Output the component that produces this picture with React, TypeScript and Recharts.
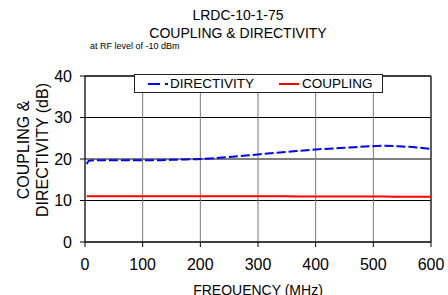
import {
  LineChart,
  Line,
  XAxis,
  YAxis,
  CartesianGrid,
  Legend,
  Label,
  ReferenceLine,
} from "recharts";

const frequencies = [3, 7, 25, 50, 75, 100, 125, 150, 175, 200, 250, 300, 350, 400, 450, 500, 520, 550, 575, 600];
const directivity = [18.8, 19.6, 19.7, 19.7, 19.7, 19.7, 19.7, 19.8, 19.9, 20.0, 20.5, 21.1, 21.7, 22.3, 22.7, 23.1, 23.2, 23.0, 22.8, 22.4];
const coupling = [11.0, 11.0, 11.0, 11.0, 11.0, 11.0, 11.0, 11.0, 11.0, 11.0, 11.0, 11.0, 11.0, 10.95, 10.95, 10.95, 10.95, 10.9, 10.9, 10.9];
const xTicks = [0, 100, 200, 300, 400, 500, 600];
const yTicks = [0, 10, 20, 30, 40];

const data = frequencies.map((f, i) => ({
  freq: f,
  directivity: directivity[i],
  coupling: coupling[i],
}));

const FONT = "Arial, 'Liberation Sans', Helvetica, sans-serif";

function ChartLegend() {
  return (
    <div
      style={{
        position: "relative",
        width: 249,
        height: 19,
        border: "1px solid #222",
        background: "#fff",
        fontFamily: FONT,
        fontSize: 13.5,
        color: "#000",
        boxSizing: "border-box",
      }}
    >
      <svg width={20} height={4} style={{ position: "absolute", left: 13, top: 7 }}>
        <line x1={0} y1={2} x2={20} y2={2} stroke="#0000FF" strokeWidth={2} strokeDasharray="12 5" />
      </svg>
      <span style={{ position: "absolute", left: 35, top: 1, lineHeight: "16px" }}>DIRECTIVITY</span>
      <svg width={20} height={4} style={{ position: "absolute", left: 144, top: 7 }}>
        <line x1={0} y1={2} x2={20} y2={2} stroke="#FF0000" strokeWidth={2} />
      </svg>
      <span style={{ position: "absolute", left: 167, top: 1, lineHeight: "16px" }}>COUPLING</span>
    </div>
  );
}

export default function App() {
  return (
    <div style={{ position: "absolute", left: 0, top: 0, width: 448, height: 295, background: "#fff", overflow: "hidden" }}>
      <div style={{ position: "absolute", left: 0, width: 476, top: 6, textAlign: "center", fontFamily: FONT, fontSize: 14, lineHeight: "18px" }}>
        LRDC-10-1-75
        <br />
        COUPLING &amp; DIRECTIVITY
      </div>
      <div style={{ position: "absolute", left: 90, top: 41, fontFamily: FONT, fontSize: 9 }}>at RF level of -10 dBm</div>
      <LineChart
        width={448}
        height={295}
        data={data}
        margin={{ top: 57, right: 17, bottom: 0, left: 0 }}
        style={{ fontFamily: FONT }}
      >
        <CartesianGrid horizontal={true} vertical={false} stroke="#000" strokeWidth={1} />
        <CartesianGrid horizontal={false} vertical={true} stroke="#777" strokeWidth={1} />
        <ReferenceLine x={600} stroke="#000" strokeWidth={1} />
        <ReferenceLine y={40} stroke="#000" strokeWidth={1} />
        <XAxis
          dataKey="freq"
          type="number"
          domain={[0, 600]}
          ticks={xTicks}
          height={53}
          tickSize={5}
          tickMargin={12}
          tick={{ fontSize: 16, fill: "#000" }}
          axisLine={{ stroke: "#000" }}
          tickLine={{ stroke: "#000" }}
        >
          <Label
            content={() => (
              <text x={258} y={295} textAnchor="middle" fontSize={14} fill="#000" fontFamily={FONT}>
                FREQUENCY (MHz)
              </text>
            )}
          />
        </XAxis>
        <YAxis
          type="number"
          domain={[0, 40]}
          ticks={yTicks}
          width={85}
          tickSize={5}
          tickMargin={8}
          tick={{ fontSize: 16, fill: "#000" }}
          axisLine={{ stroke: "#000" }}
          tickLine={{ stroke: "#000" }}
        >
          <Label
            content={() => (
              <g fontFamily={FONT} fontSize={16} fill="#000">
                <text x={29} y={150} textAnchor="middle" transform="rotate(-90 29 150)">
                  COUPLING &amp;
                </text>
                <text x={48} y={150} textAnchor="middle" transform="rotate(-90 48 150)">
                  DIRECTIVITY (dB)
                </text>
              </g>
            )}
          />
        </YAxis>
        <Legend
          verticalAlign="top"
          content={() => <ChartLegend />}
          wrapperStyle={{ position: "absolute", left: 134, top: 74, width: 249, height: 19 }}
        />
        <Line
          dataKey="directivity"
          stroke="#0000FF"
          strokeWidth={2}
          strokeDasharray="9 3"
          dot={false}
          type="monotone"
          isAnimationActive={false}
        />
        <Line
          dataKey="coupling"
          stroke="#FF0000"
          strokeWidth={2}
          dot={false}
          type="monotone"
          isAnimationActive={false}
        />
      </LineChart>
    </div>
  );
}
